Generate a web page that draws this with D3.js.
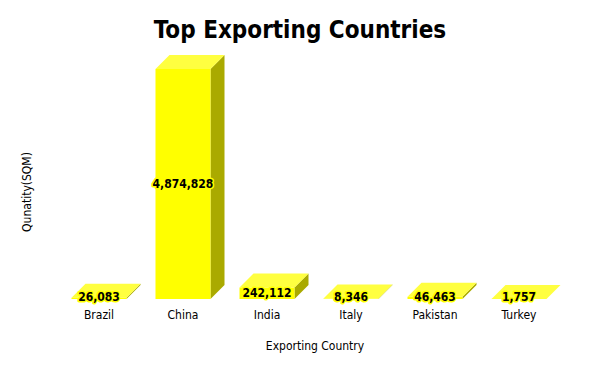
<!DOCTYPE html>
<html>
<head>
<meta charset="utf-8">
<script src="https://cdn.jsdelivr.net/npm/d3@7"></script>
<style>
  body { margin: 0; background: #fff; }
  text { font-family: "DejaVu Sans Condensed", "DejaVu Sans", sans-serif; }
</style>
</head>
<body>
<div id="chart"></div>
<script>
// data
const countries = ['Brazil', 'China', 'India', 'Italy', 'Pakistan', 'Turkey'];
const quantities = [26083, 4874828, 242112, 8346, 46463, 1757];

const width = 600;
const height = 371;
const depth = 14; // 3d offset

const svg = d3.select('#chart')
  .append('svg')
  .attr('width', width)
  .attr('height', height);

const x = d3.scaleBand()
  .domain(countries)
  .range([57, 561])
  .paddingInner(0.345)
  .paddingOuter(0.1725);

const y = d3.scaleLinear()
  .domain([0, d3.max(quantities)])
  .range([299, 69]);

const data = countries.map((c, i) => ({ country: c, value: quantities[i] }));

const bars = svg.append('g').selectAll('g')
  .data(data)
  .enter().append('g');

// side face
bars.append('path')
  .attr('fill', '#aaaa00')
  .attr('d', d => {
    const x0 = x(d.country) + x.bandwidth(), yt = y(d.value), yb = y(0);
    return `M${x0},${yt}L${x0 + depth},${yt - depth}L${x0 + depth},${yb - depth}L${x0},${yb}Z`;
  });

// top face
bars.append('path')
  .attr('fill', '#ffff40')
  .attr('d', d => {
    const x0 = x(d.country), w = x.bandwidth(), yt = y(d.value);
    return `M${x0},${yt}L${x0 + depth},${yt - depth}L${x0 + w + depth},${yt - depth}L${x0 + w},${yt}Z`;
  });

// front face
bars.append('rect')
  .attr('fill', '#ffff00')
  .attr('x', d => x(d.country))
  .attr('y', d => y(d.value))
  .attr('width', x.bandwidth())
  .attr('height', d => y(0) - y(d.value));

// value labels
bars.append('text')
  .attr('x', d => x(d.country) + x.bandwidth() / 2)
  .attr('y', d => Math.min((y(d.value) + y(0)) / 2, y(0) - 2))
  .attr('dy', '0.35em')
  .attr('text-anchor', 'middle')
  .style('font-size', '12px')
  .style('font-weight', 'bold')
  .style('paint-order', 'stroke')
  .attr('stroke', '#ffff00')
  .attr('stroke-width', 3)
  .attr('stroke-linejoin', 'round')
  .attr('fill', '#000')
  .text(d => d3.format(',')(d.value));

// x axis (labels only)
const xAxis = svg.append('g')
  .attr('transform', `translate(0,${y(0) + 5})`)
  .call(d3.axisBottom(x).tickSize(0).tickPadding(6));
xAxis.select('.domain').remove();
xAxis.selectAll('text')
  .style('font-family', '"DejaVu Sans Condensed", "DejaVu Sans", sans-serif')
  .style('font-size', '12px')
  .attr('fill', '#000');

// title
svg.append('text')
  .attr('x', 300)
  .attr('y', 38)
  .attr('text-anchor', 'middle')
  .style('font-size', '24px')
  .style('font-weight', 'bold')
  .text('Top Exporting Countries');

// axis titles
svg.append('text')
  .attr('x', 315)
  .attr('y', 350)
  .attr('text-anchor', 'middle')
  .style('font-size', '12px')
  .text('Exporting Country');

svg.append('text')
  .attr('transform', 'translate(31,192) rotate(-90)')
  .attr('text-anchor', 'middle')
  .style('font-size', '12px')
  .text('Qunatity(SQM)');
</script>
</body>
</html>
